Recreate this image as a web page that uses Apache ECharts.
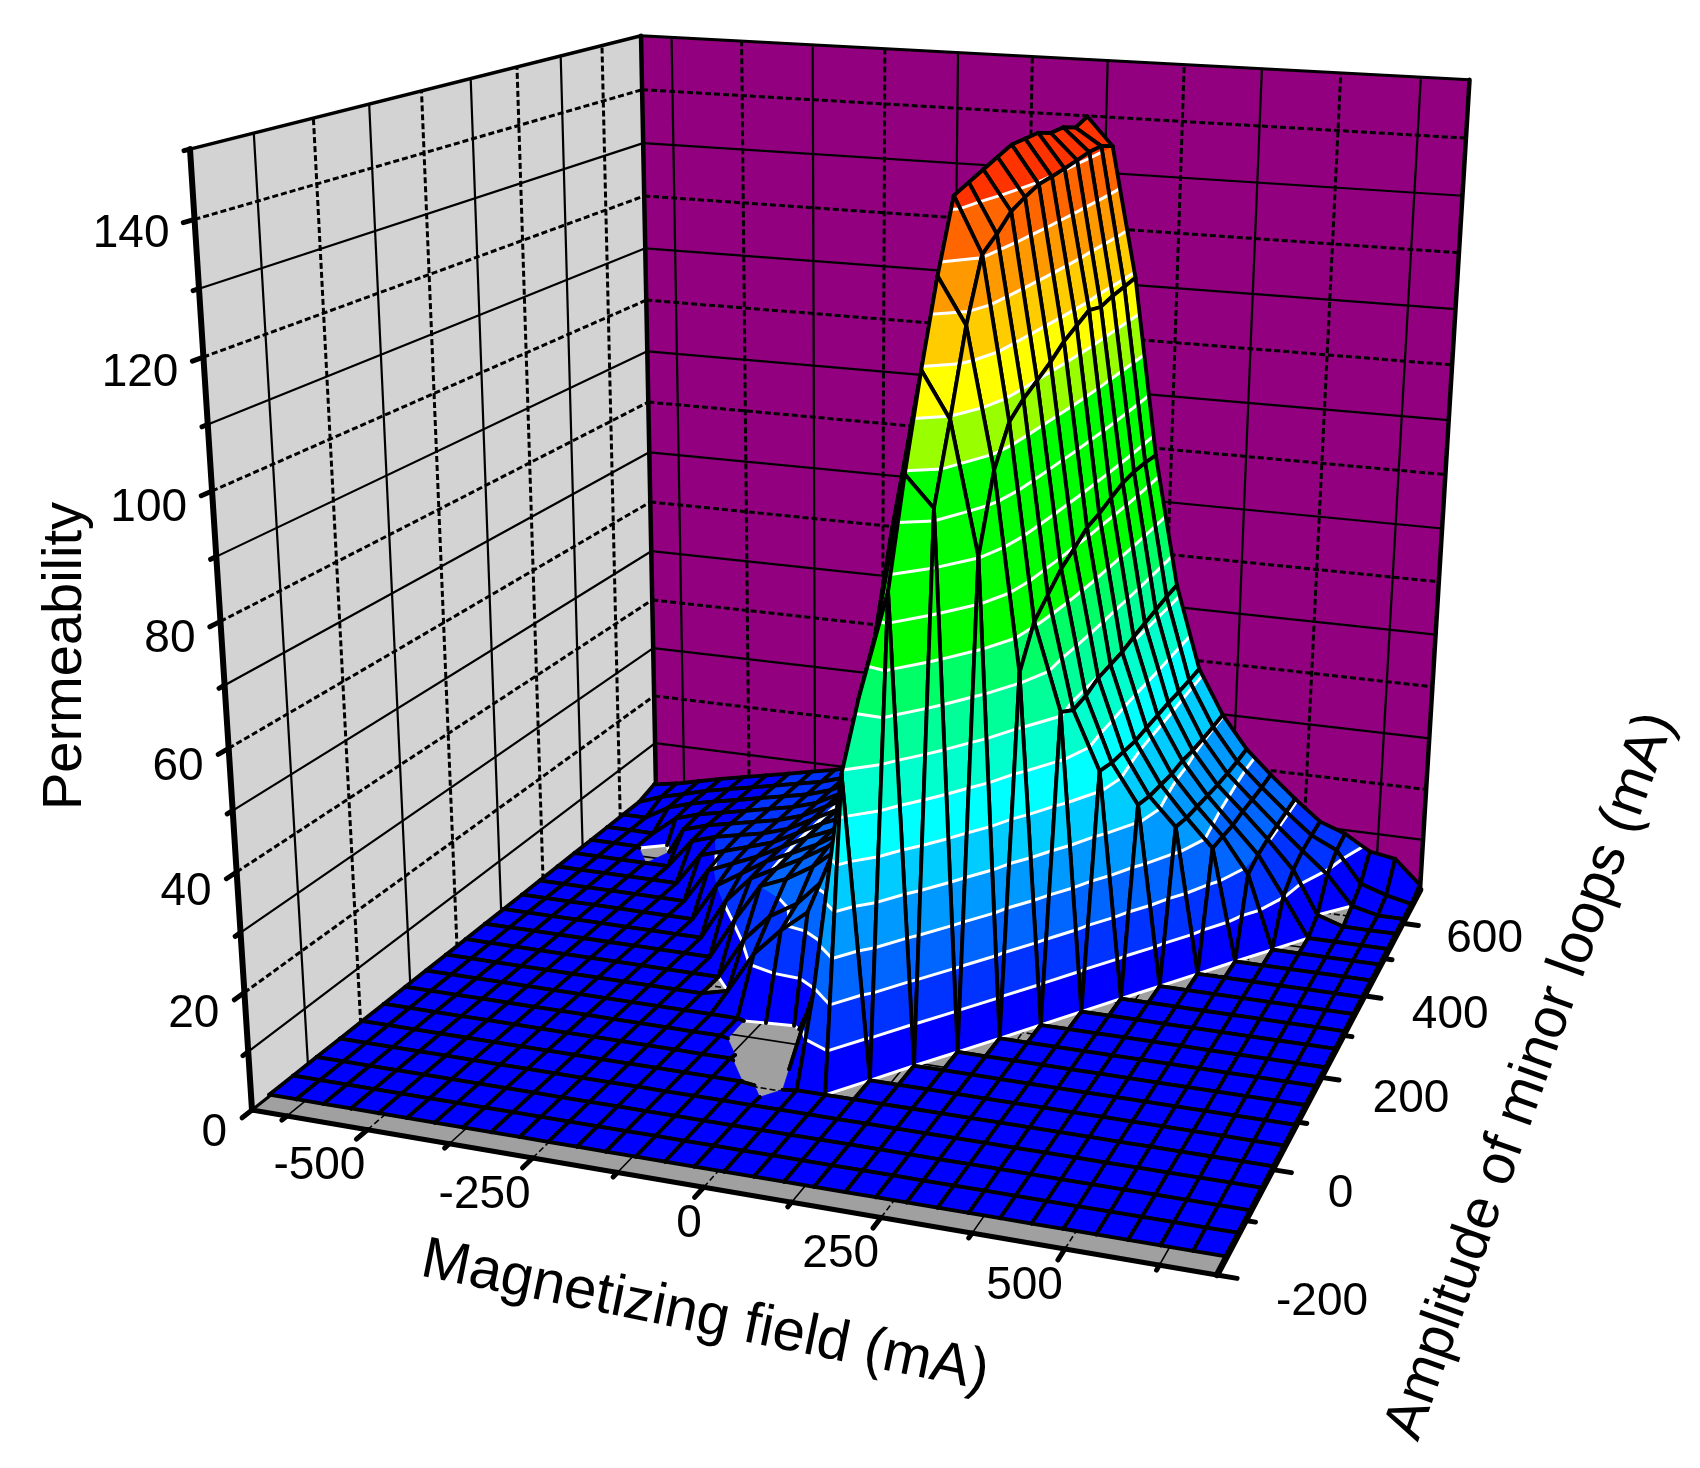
<!doctype html>
<html>
<head>
<meta charset="UTF-8">
<title>Permeability surface</title>
<style>
  html, body { margin: 0; padding: 0; background: #fff; }
  #main { width: 1700px; height: 1468px; }
</style>
<script src="https://cdn.jsdelivr.net/npm/echarts@6/dist/echarts.min.js"></script>
</head>
<body>
<div id="main"></div>
<script>
// values
const fieldNodes = [-680,-637,-594,-551,-508,-464,-421,-378,-335,-292,-249,-206,-163,-119,-76,-33,10,53,96,139,183,226,269,312,355,398,441,484,528,571,614,657,700];
const ampNodes = [-170,-127,-84,-40,3,46,90,133,176,219,263,306,349,392,436,479,522,565,608,652,695];

// one row per amplitude, one column per field value
const permeability = [
  [.3,.3,.3,.3,.3,.3,.3,.3,.3,.3,.3,.3,.3,.3,.3,.3,.3,.3,.3,.3,.3,.3,.3,.3,.3,.3,.3,.3,.3,.3,.3,.3,.3],
  [.3,.3,.3,.3,.3,.3,.3,.3,.3,.3,.3,.3,.3,.3,.3,.3,.3,.3,.3,.3,.3,.3,.3,.3,.3,.3,.3,.3,.3,.3,.3,.3,.3],
  [.3,.3,.3,.3,.3,.3,.3,.3,.3,.3,.3,.3,.3,.3,.3,.3,.3,.3,.3,.3,.3,.3,.3,.3,.3,.3,.3,.3,.3,.3,.3,.3,.3],
  [.3,.3,.3,.3,.3,.3,.3,.3,.3,.3,.3,.3,.3,.3,.3,.3,.3,.3,.3,.3,.3,.3,.3,.3,.3,.3,.3,.3,.3,.3,.3,.3,.3],
  [.3,.3,.3,.3,.3,.3,.3,.3,.3,.3,.3,.3,.3,.3,.3,-.3,.3,.3,.3,.3,.3,.3,.3,.3,.3,.3,.3,.3,.3,.3,.3,.3,.3],
  [.3,.3,.3,.3,.3,.3,.3,.3,.3,.3,.3,.3,.3,.3,-2.5,-2,14,52,.3,.3,.3,.3,.3,.3,.3,.3,.3,.3,.3,.3,.3,.3,.3],
  [.3,.3,.3,.3,.3,.3,.3,.3,.3,.3,.3,.3,.3,-.8,-4,-.2,22,62,80,.3,.3,.3,.3,.3,.3,.3,.3,.3,.3,.3,.3,.3,.3],
  [.3,.3,.3,.3,.3,.3,.3,.3,.3,.3,.3,.3,.3,-1,-3,8,26,70,97,92,.3,.3,.3,.3,.3,.3,.3,.3,.3,.3,.3,.3,.3],
  [.3,.3,.3,.3,.3,.3,.3,.3,.3,.3,.3,1.5,9,14,18,30,42,85,112,104.5,82.7,.3,.3,.3,.3,.3,.3,.3,.3,.3,.3,.3,.3],
  [.3,.3,.3,.3,.3,.3,.3,.3,.3,.3,.3,8,13,16,21,28,45,95,125.5,118,95,61.7,.3,.3,.3,.3,.3,.3,.3,.3,.3,.3,.3],
  [.3,.3,.3,.3,.3,.3,.3,.3,.3,.3,8,15,17,20,24,29,48,100,137,128,101.2,68.2,53.2,.3,.3,.3,.3,.3,.3,.3,.3,.3,.3],
  [.3,.3,.3,.3,.3,.3,.3,.3,.3,8,13,15.5,18,21,24,29,50,105,138,130,103.4,70.7,51.2,41,.3,.3,.3,.3,.3,.3,.3,.3,.3],
  [.3,.3,.3,.3,.3,.3,.3,.3,7.5,10.5,13.5,15.7,18,21,24,30,52,108,139,132.5,104.9,73.2,51.4,40,33,.3,.3,.3,.3,.3,.3,.3,.3],
  [.3,.3,.3,.3,.3,.3,.3,7,9,11,13.5,16,18,21,24,30,54,110,140,133.7,106.5,74.7,52.3,39.5,32,27,.3,.3,.3,.3,.3,.3,.3],
  [.3,.3,.3,.3,.3,.3,6.5,8,9.5,11,13.5,16,18,21,25,31,55,112,141,134.7,108.5,76.5,52.4,39,31.5,26,21,.3,.3,.3,.3,.3,.3],
  [.3,.3,.3,.3,.3,6,7.5,8.5,9.5,11,13.5,16,18,21,25,31,56,113,141,134.9,109.8,77.1,52.5,39,31,25.5,20.5,14,.3,.3,.3,.3,.3],
  [.3,.3,.3,-3,5,6.5,7.5,8.5,9.5,11,13.5,16,18,21,25,31,57,114,141,135.2,111.1,78.1,53.1,39,31,25,20,15,7.7,.3,.3,.3,.3],
  [.3,.3,.3,4,5.5,6.5,7.5,8.5,9.5,11,13.5,16,18,21,25,31,58,115,140,135.6,110.3,79,53.5,39,30.5,24.5,20,15.3,10,1.9,.3,.3,.3],
  [.3,.3,3,4.5,5.5,6.5,7.5,8.5,9.5,11,13.5,16,18,21,25,31,59,115,140,136,110.9,79.3,53.9,38.8,30.3,24.2,19.7,15.3,11,7,1.5,.3,.3],
  [.3,2,3.2,4.5,5.5,6.5,7.5,8.5,9.5,11,13.5,16,18,21,25,32,60,116,139,136,111.2,79.2,54.3,38.7,30.2,24,19.5,15.3,11.3,9,3,1.4,.3],
  [1.5,2.3,3.4,4.5,5.5,6.5,7.5,8.5,9.5,11,13.5,16,18,21,25,32,60,116,140,135,111.5,78.9,54.5,38.7,30.2,24,19.5,15.3,11.4,9.6,6.7,5.9,1.4]
];

const fieldTicks = [-625,-500,-375,-250,-125,0,125,250,375,500,625];
const fieldLabels = [-500,-250,0,250,500];
const ampTicks = [-100,0,100,200,300,400,500,600];
const ampLabels = [-200,0,200,400,600];
const permTicks = [10,20,30,40,50,60,70,80,90,100,110,120,130,140];
const permLabels = [0,20,40,60,80,100,120,140];

const bandStep = 7.5;
const bandColors = ['#0000FF','#0033FF','#0066FF','#0099FF','#00CCFF','#00FFFF','#00FFCC','#00FF99','#00FF66','#00FF00',
  '#00FF00','#00FF00','#00FF00','#99FF00','#FFFF00','#FFCC00','#FF9900','#FF6600','#FF3300','#FF3300'];

// box limits and camera
const H0 = -680, H1 = 700, A0 = -200, A1 = 700, P0 = 0, P1 = 150;
const camera = [
  [850.6, 593, -80, 252],
  [45.1, -92.4, -975, 1110],
  [-0.094, 0.2881, -0.0947, 1]
];
const FONT = '"Liberation Sans", Arial, sans-serif';
const BLACK = '#000';
const PURPLE = '#92007F', WALLGREY = '#D3D3D3', FLOORGREY = '#A0A0A0';

// field, amplitude, permeability -> point on the page
function project(h, a, p) {
  const u = (h - H0) / (H1 - H0), v = (a - A0) / (A1 - A0), w = (p - P0) / (P1 - P0);
  const t = camera[2][0] * u + camera[2][1] * v + camera[2][2] * w + camera[2][3];
  return [
    (camera[0][0] * u + camera[0][1] * v + camera[0][2] * w + camera[0][3]) / t,
    (camera[1][0] * u + camera[1][1] * v + camera[1][2] * w + camera[1][3]) / t
  ];
}

function toPage(api, q) { return api.coord(project(q[0], q[1], q[2])); }

function clipAbove(poly, level, keepAbove) {
  const out = [];
  for (let i = 0; i < poly.length; i++) {
    const a = poly[i], b = poly[(i + 1) % poly.length];
    const ina = keepAbove ? a[2] >= level : a[2] <= level;
    const inb = keepAbove ? b[2] >= level : b[2] <= level;
    if (ina) out.push(a);
    if (ina !== inb) {
      const t = (level - a[2]) / (b[2] - a[2]);
      out.push([a[0] + (b[0] - a[0]) * t, a[1] + (b[1] - a[1]) * t, level]);
    }
  }
  return out;
}

function lineEl(api, a, b, width, color, dash) {
  const p = toPage(api, a), q = toPage(api, b);
  return {
    type: 'line',
    shape: { x1: p[0], y1: p[1], x2: q[0], y2: q[1] },
    style: { stroke: color, lineWidth: width, lineCap: dash ? 'butt' : 'round', lineDash: dash || null, fill: null }
  };
}

function polyEl(api, poly, color) {
  return {
    type: 'polygon',
    shape: { points: poly.map(q => toPage(api, q)) },
    style: { fill: color, stroke: color, lineWidth: 0.6 }
  };
}

// ---- backdrop: walls, floor and their grid
const backdrop = [];
backdrop.push({ poly: [[H0,A1,P0],[H0,A0,P0],[H0,A0,P1],[H0,A1,P1]], color: WALLGREY });
backdrop.push({ poly: [[H0,A1,P0],[H1,A1,P0],[H1,A1,P1],[H0,A1,P1]], color: PURPLE });
backdrop.push({ poly: [[H0,A0,P0],[H1,A0,P0],[H1,A1,P0],[H0,A1,P0]], color: FLOORGREY });
permTicks.forEach(p => {
  const dashed = p % 20 === 0;
  backdrop.push({ from: [H0,A0,p], to: [H0,A1,p], width: dashed ? 3 : 2.2, dashed });
  backdrop.push({ from: [H0,A1,p], to: [H1,A1,p], width: dashed ? 3 : 2.2, dashed });
});
ampTicks.forEach(a => {
  const dashed = a % 200 === 0;
  backdrop.push({ from: [H0,a,P0], to: [H0,a,P1], width: dashed ? 3 : 2.2, dashed });
  backdrop.push({ from: [H0,a,P0], to: [H1,a,P0], width: 1.6, dashed });
});
fieldTicks.forEach(h => {
  const dashed = h % 250 === 0;
  backdrop.push({ from: [h,A1,P0], to: [h,A1,P1], width: dashed ? 3 : 2.2, dashed });
  backdrop.push({ from: [h,A0,P0], to: [h,A1,P0], width: 1.6, dashed });
});
backdrop.push({ from: [H0,A0,P1], to: [H0,A1,P1], width: 3.5 });
backdrop.push({ from: [H0,A1,P1], to: [H1,A1,P1], width: 3 });
backdrop.push({ from: [H0,A1,P0], to: [H0,A1,P1], width: 4.5 });
backdrop.push({ from: [H1,A1,P0], to: [H1,A1,P1], width: 4.5 });
backdrop.push({ from: [H0,A0,P0], to: [H0,A1,P0], width: 3 });

function renderBackdrop(params, api) {
  const m = backdrop[params.dataIndex];
  if (m.poly) return polyEl(api, m.poly, m.color);
  return lineEl(api, m.from, m.to, m.width, BLACK, m.dashed ? [6, 3] : null);
}

// ---- surface, painted from the far corner towards the viewer
const cells = [];
for (let j = ampNodes.length - 2; j >= 0; j--) {
  for (let k = 0; k < fieldNodes.length - 1; k++) cells.push([k, j]);
}
const node = (k, j) => [fieldNodes[k], ampNodes[j], permeability[j][k]];
// cell beside the left foot where only the half towards the wall is covered
const openLeftCells = ['10,8'];

function renderCell(params, api) {
  const k = cells[params.dataIndex][0], j = cells[params.dataIndex][1];
  const n00 = node(k, j), n10 = node(k + 1, j), n11 = node(k + 1, j + 1), n01 = node(k, j + 1);
  const children = [];
  let poly = [n00, n10, n11, n01];
  let seam = null;
  if (n00[2] < 3 && n10[2] < 3 && n11[2] < 3 && n01[2] >= 7) {
    poly = [n00, n11, n01];
    seam = [n00, n11];
  } else if (openLeftCells.indexOf(k + ',' + j) >= 0) {
    poly = [n10, n11, n01];
    seam = [n10, n01];
  }
  const lo = Math.min.apply(null, poly.map(q => q[2]));
  const hi = Math.max.apply(null, poly.map(q => q[2]));
  bandColors.forEach((color, b) => {
    const zl = b * bandStep, zh = (b + 1) * bandStep;
    if (hi < zl || lo > zh) return;
    let piece = clipAbove(poly, zl, true);
    if (piece.length) piece = clipAbove(piece, zh, false);
    if (piece.length > 2) children.push(polyEl(api, piece, color));
  });
  // contour lines; level 0 is white only on the far side of a bare patch
  const farSideBare = n01[2] > 0 && n11[2] > 0;
  for (let b = 0; b < bandColors.length; b++) {
    const level = b * bandStep;
    if (hi < level || lo > level) continue;
    if (b === 0 && !farSideBare) continue;
    const hits = [];
    poly.forEach((a, i) => {
      const c = poly[(i + 1) % poly.length];
      if ((a[2] - level) * (c[2] - level) < 0) {
        const t = (level - a[2]) / (c[2] - a[2]);
        hits.push([a[0] + (c[0] - a[0]) * t, a[1] + (c[1] - a[1]) * t, level]);
      }
    });
    for (let i = 0; i + 1 < hits.length; i += 2) {
      children.push(lineEl(api, hits[i], hits[i + 1], 3, '#fff'));
    }
  }
  if (seam) children.push(lineEl(api, seam[0], seam[1], 3, '#fff'));
  // mesh
  [[n00, n10], [n10, n11], [n11, n01], [n01, n00]].forEach(e => {
    let a = e[0], b = e[1];
    if (a[2] < 0 && b[2] < 0) return;
    if (a[2] < 0 || b[2] < 0) {
      const t = a[2] / (a[2] - b[2]);
      const cut = [a[0] + (b[0] - a[0]) * t, a[1] + (b[1] - a[1]) * t, 0];
      if (a[2] < 0) a = cut; else b = cut;
    }
    children.push(lineEl(api, a, b, 3.8, BLACK));
  });
  return { type: 'group', children };
}

// ---- axes: front edges, ticks, labels
const axisMarks = [];
axisMarks.push({ from: [H0,A0,P0], to: [H0,A0,P1], width: 6 });
axisMarks.push({ from: [H0,A0,P0], to: [H1,A0,P0], width: 5 });
axisMarks.push({ from: [H1,A0,P0], to: [H1,A1,P0], width: 6.5 });
[0].concat(permTicks, [150]).forEach(p => {
  const major = p % 20 === 0;
  axisMarks.push({ from: [H0,A0,p], to: [H0, A0 - (major ? 17 : 9), p], width: 5 });
});
fieldTicks.forEach(h => {
  axisMarks.push({ from: [h,A0,P0], to: [h, A0 - (h % 250 === 0 ? 20 : 9), P0], width: 5 });
});
[A0].concat(ampTicks).forEach(a => {
  axisMarks.push({ from: [H1,a,P0], to: [H1 + (a % 200 === 0 ? 26 : 13), a, P0], width: 5 });
});
permLabels.forEach(p => {
  const w = p / P1;
  axisMarks.push({ text: String(p), at: [H0,A0,p], dx: -25, dy: 14 + 9 * (1 - w), align: 'right', size: 46 });
});
fieldLabels.forEach(h => {
  axisMarks.push({ text: String(h), at: [h,A0,P0], dx: -2, dy: 37, align: 'right', size: 46 });
});
ampLabels.forEach(a => {
  const v = (a - A0) / (A1 - A0);
  axisMarks.push({ text: String(a), at: [H1,a,P0], dx: 42 + 17 * (1 - v), dy: 15 + 12 * (1 - v), align: 'left', size: 46 });
});
// axis titles, placed on the page
const titles = [
  { text: 'Permeability', x: 66, y: 656, rotation: Math.PI / 2, size: 56 },
  { text: 'Magnetizing field (mA)', x: 705, y: 1317, rotation: -0.2, size: 58 },
  { text: 'Amplitude of minor loops (mA)', x: 1531, y: 1076, rotation: 1.23, size: 57 }
];

function renderAxisMark(params, api) {
  const m = axisMarks[params.dataIndex];
  if (m.text) {
    const p = toPage(api, m.at);
    return {
      type: 'text',
      x: p[0] + m.dx, y: p[1] + m.dy,
      style: { text: m.text, fill: BLACK, font: m.size + 'px ' + FONT, textAlign: m.align, textVerticalAlign: 'middle' }
    };
  }
  return lineEl(api, m.from, m.to, m.width, BLACK);
}

function renderTitle(params, api) {
  const t = titles[params.dataIndex];
  const p = api.coord([t.x, t.y]);
  return {
    type: 'text',
    x: p[0], y: p[1], rotation: t.rotation,
    style: { text: t.text, fill: BLACK, font: t.size + 'px ' + FONT, textAlign: 'center', textVerticalAlign: 'middle' }
  };
}

function layer(name, items, renderItem, z) {
  return {
    type: 'custom', name, coordinateSystem: 'cartesian2d', clip: false, silent: true,
    renderItem, z, progressive: 0, animation: false,
    encode: { x: 0, y: 1 },
    data: items.map((_, i) => [i, i])
  };
}

const chart = echarts.init(document.getElementById('main'));
chart.setOption({
  backgroundColor: '#fff',
  animation: false,
  grid: { left: 0, right: 0, top: 0, bottom: 0 },
  xAxis: { type: 'value', min: 0, max: 1700, show: false },
  yAxis: { type: 'value', min: 0, max: 1468, inverse: true, show: false },
  series: [
    layer('walls', backdrop, renderBackdrop, 1),
    layer('surface', cells, renderCell, 2),
    layer('axes', axisMarks, renderAxisMark, 3),
    layer('titles', titles, renderTitle, 4)
  ]
});
</script>
</body>
</html>
